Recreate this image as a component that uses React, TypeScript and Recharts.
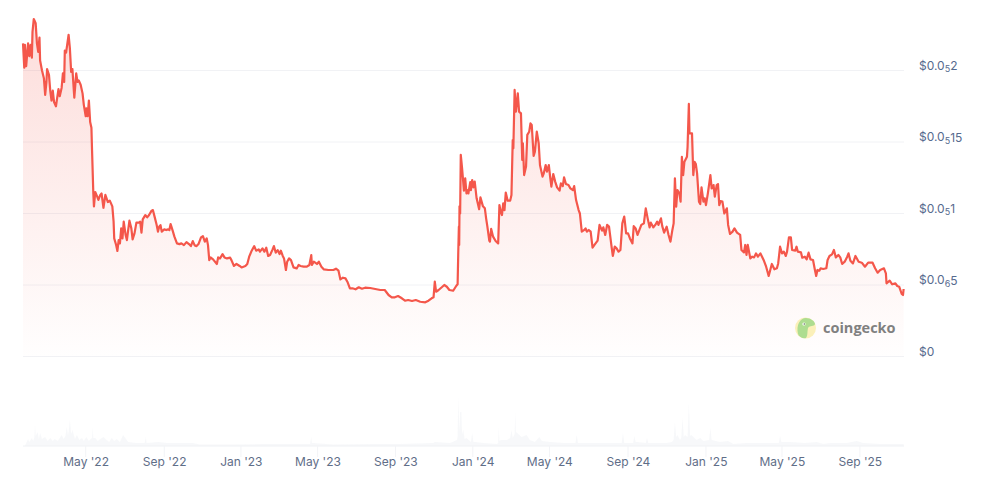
import React from "react";
import { ComposedChart, Area, XAxis, YAxis, CartesianGrid } from "recharts";

const FONT = "Inter, 'Noto Sans', sans-serif";
const LABEL = "#5f6e88";
const PRICE_LABEL = "#566a8e";

// Days since the start of the chart, price in millionths of a dollar.
const priceDays = [
  0,2,3,5,8,10,12,14,15,17,
  20,22,24,26,27,30,33,35,37,38,
  41,43,45,47,49,52,54,56,58,61,
  63,65,66,68,72,74,76,78,81,84,
  86,88,91,94,96,99,100,102,104,106,
  108,109,111,112,114,117,119,122,124,127,
  130,134,137,141,143,144,147,149,151,153,
  155,157,159,162,164,166,168,171,173,176,
  179,183,185,187,189,193,196,199,203,205,
  208,211,213,215,217,219,223,226,229,231,
  233,236,239,243,247,250,254,258,262,265,
  268,271,274,277,281,284,287,290,292,294,
  296,300,306,308,311,315,318,322,327,329,
  333,337,342,345,351,354,357,361,365,368,
  372,374,378,381,384,387,390,394,396,399,
  402,405,407,410,412,415,417,420,423,427,
  432,435,438,443,448,452,455,456,459,464,
  467,471,475,482,490,494,498,501,505,509,
  512,516,520,525,530,535,540,548,556,564,
  571,577,582,587,592,598,603,608,614,620,
  627,635,640,645,648,650,652,656,661,665,
  669,673,679,684,686,687,688,688.5,689,690,
  691,693,696,698,700,701,703,706,707,709,
  711,713,716,720,722,726,729,731,733,736,
  737,739,742,746,750,752,754,756,758,760,
  762,765,769,771,773,774,776,778,781,783,
  786,788,789,791,794,796,799,801,803,806,
  808,811,814,816,820,822,825,827,830,832,
  834,837,840,843,847,849,852,854,857,861,
  864,868,870,873,877,879,882,886,888,890,
  893,896,899,902,907,910,914,916,919,922,
  925,927,929,931,934,937,940,943,946,949,
  950,952,955,958,962,964,967,970,973,976,
  980,983,986,989,991,995,998,1001,1003,1007,
  1009,1012,1016,1019,1022,1025,1027,1029,1031,1033,
  1036,1038,1040,1042,1044,1048,1049,1051,1052,1056,
  1058,1060,1062,1064,1067,1069,1071,1074,1076,1078,
  1081,1085,1087,1090,1092,1095,1097,1099,1101,1104,
  1107,1111,1113,1116,1120,1123,1127,1132,1134,1138,
  1140,1142,1144,1148,1151,1154,1157,1160,1164,1169,
  1173,1177,1182,1186,1190,1192,1195,1198,1201,1204,
  1206,1209,1212,1214,1219,1221,1223,1228,1230,1234,
  1237,1240,1243,1247,1250,1252,1254,1257,1259,1263,
  1268,1270,1273,1277,1280,1283,1287,1290,1293,1297,
  1301,1303,1306,1310,1314,1319,1324,1329,1334,1341,
  1345,1349,1353,1359,1362,1363,1368,1372,1377,1380,
  1383,1387,1389,1390,
];

const priceValues = [
  2.19,2.02,2.18,2.03,2.19,2.10,2.18,2.09,2.27,2.36,
  2.33,2.19,2.13,2.23,2.07,2.00,1.945,1.83,1.92,2.01,
  1.97,1.86,1.79,1.86,1.78,1.75,1.81,1.87,1.82,1.88,
  1.98,1.92,2.14,2.125,2.25,2.155,1.99,2.01,1.81,1.98,
  1.92,1.93,1.90,1.84,1.76,1.68,1.735,1.68,1.79,1.64,
  1.60,1.44,1.14,1.05,1.15,1.12,1.095,1.13,1.14,1.04,
  1.13,1.08,1.09,1.05,.943,.826,.78,.738,.814,.791,
  .896,.826,.943,.849,.814,.884,.95,.896,.819,.861,
  .936,.936,.943,.866,.959,.989,.973,.989,1.02,1.024,
  .973,.919,.873,.908,.919,.873,.889,.884,.889,.884,
  .926,.884,.838,.791,.786,.791,.779,.80,.786,.772,
  .807,.777,.772,.786,.833,.842,.803,.826,.779,.674,
  .693,.679,.647,.693,.686,.716,.693,.686,.691,.674,
  .633,.647,.633,.623,.633,.647,.698,.740,.772,.740,
  .749,.733,.756,.733,.761,.703,.710,.749,.772,.726,
  .744,.716,.740,.703,.686,.605,.663,.686,.674,.623,
  .616,.640,.633,.628,.628,.640,.709,.640,.663,.647,
  .663,.628,.609,.605,.605,.614,.600,.539,.551,.546,
  .523,.476,.477,.47,.484,.474,.481,.479,.472,.465,
  .465,.43,.414,.414,.423,.407,.39,.395,.388,.395,
  .383,.379,.39,.407,.414,.523,.453,.465,.484,.50,
  .488,.465,.46,.495,.505,.72,.908,.78,1.05,1.0,
  1.41,1.32,1.16,1.245,1.14,1.164,1.14,1.22,1.164,1.234,
  1.183,1.223,1.106,1.03,1.113,1.05,1.036,.966,.908,.81,
  .803,.892,.838,.808,.791,1.059,1.013,.989,1.071,1.024,
  1.146,1.09,1.09,1.13,1.514,1.456,1.864,1.712,1.84,1.712,
  1.70,1.374,1.491,1.269,1.328,1.55,1.572,1.63,1.619,1.402,
  1.432,1.572,1.491,1.339,1.258,1.281,1.339,1.293,1.339,1.258,
  1.188,1.276,1.223,1.183,1.16,1.211,1.192,1.253,1.206,1.199,
  1.176,1.164,1.192,1.094,1.024,1.0,.873,.885,.896,.873,
  .885,.873,.761,.78,.81,.92,.88,.903,.85,.92,
  .908,.838,.768,.703,.768,.756,.733,.745,.931,.978,
  .943,.861,.861,.826,.791,.912,.896,.85,.885,.92,
  .931,1.036,.966,.903,.936,.903,.92,.943,.92,.966,
  .912,.866,.908,.85,.803,.885,.931,1.246,1.048,1.164,
  1.141,1.083,1.397,1.269,1.362,1.397,1.467,1.766,1.56,1.56,
  1.269,1.362,1.346,1.281,1.083,1.066,1.183,1.083,1.106,1.059,
  1.141,1.269,1.176,1.199,1.118,1.199,1.206,1.059,1.087,1.083,
  1.0,1.036,.92,.857,.873,.896,.866,.85,.745,.728,
  .78,.71,.78,.686,.698,.693,.721,.698,.721,.675,
  .628,.563,.647,.61,.617,.651,.768,.721,.733,.703,
  .733,.833,.833,.745,.74,.768,.733,.728,.691,.698,
  .679,.726,.679,.675,.605,.563,.605,.6,.617,.612,
  .617,.675,.703,.714,.745,.693,.71,.693,.647,.663,
  .698,.721,.67,.651,.703,.663,.656,.628,.656,.656,
  .617,.586,.605,.617,.582,.512,.53,.505,.512,.493,
  .488,.437,.43,.472,
];

const volumeDays = [
  3,8,10,14,16,18,19,20,23,25,
  27,30,35,39,43,47,50,55,61,64,
  67,69,71,72,74,76,78,82,85,89,
  93,96,100,104,107,109,110,111,114,118,
  122,127,132,136,140,144,148,153,158,166,
  179,192,194,195,214,227,268,279,332,385,
  437,453,455,456,458,490,558,595,648,650,
  674,685,686,687,689,690,692,693,695,697,
  700,707,709,711,714,727,748,750,751,752,
  754,764,769,771,773,776,777,778,780,787,
  795,800,808,815,819,832,853,872,874,876,
  879,900,921,945,947,949,951,963,965,967,
  969,983,985,987,990,1016,1024,1027,1029,1031,
  1033,1037,1039,1041,1043,1045,1049,1051,1053,1055,
  1063,1069,1074,1083,1085,1087,1100,1113,1121,1142,
  1163,1184,1193,1195,1197,1199,1211,1234,1253,1263,
  1274,1300,1316,1326,1353,1390,
];

const volumeValues = [
  0,7,4,8,5,9,21,10,14,7,
  13,7,9,5,8,5,7,5,11,7,
  10,19,11,14,26,12,16,7,11,6,
  8,5,9,5,7,8,18,8,8,5,
  7,9,6,4,8,5,7,4,11,4,
  3,3,9,3,4,3,3,1.5,1.5,2,
  2,2,9,3,3,1.5,2,2,3,4,
  3,6,9,48,14,34,34,12,16,7,
  8,4,13,4,4,3,2,3,18,5,
  6,6,8,16,8,12,34,14,13,9,
  11,6,4,9,5,4,3,3,11,3,
  3,3,3,3,13,3,3,3,10,4,
  4,3,8,3,3,3,4,6,24,9,
  11,6,8,28,9,11,9,43,10,11,
  6,8,5,6,18,6,4,5,2,3,
  3,3,3,10,4,4,4,3,4,2,
  3,3,5,3,2,2,
];

const timeTicks = [99, 223, 344, 465, 588, 710, 831, 955, 1078, 1198, 1321];
const timeLabels = ["May '22", "Sep '22", "Jan '23", "May '23", "Sep '23", "Jan '24", "May '24", "Sep '24", "Jan '25", "May '25", "Sep '25"];

const priceTicks = [0, 0.5, 1, 1.5, 2];
const priceHead = ["$0", "$0.0", "$0.0", "$0.0", "$0.0"];
const priceZeros = ["", "6", "5", "5", "5"];
const priceTail = ["", "5", "1", "15", "2"];

const priceData = priceDays.map((day, i) => ({ day, price: priceValues[i] }));
const volumeData = volumeDays.map((day, i) => ({ day, volume: volumeValues[i] }));
const DOMAIN: [number, number] = [0, 1390.6];

function PriceTick({ y, payload }: any) {
  const i = priceTicks.indexOf(payload.value);
  return (
    <text x={919} y={y - 5.2} dominantBaseline="central" fontSize={12} fontFamily={FONT} fill={PRICE_LABEL}>
      {priceHead[i]}
      {priceZeros[i] && <tspan fontSize={9} dy={3}>{priceZeros[i]}</tspan>}
      {priceTail[i] && <tspan dy={-3}>{priceTail[i]}</tspan>}
    </text>
  );
}

function TimeTick({ x, payload }: any) {
  return (
    <text x={x + 0.4} y={81} textAnchor="middle" dominantBaseline="central" fontSize={12} fontFamily={FONT} fill={LABEL}>
      {timeLabels[timeTicks.indexOf(payload.value)]}
    </text>
  );
}

function Watermark() {
  return (
    <svg width={115} height={36} style={{ position: "absolute", left: 790, top: 310 }}>
      <circle cx={15.5} cy={18} r={10.5} fill="#fbf0b9" />
      <path d="M8 24 C6 15 10 8 16 8 C20 8 25 11 25 14 C24 17 20 15 18 18 C17 23 18 25 16 28 C13 29 9 27 8 24 Z" fill="#aedd90" />
      <circle cx={14} cy={14} r={1.6} fill="#ffffff" />
      <circle cx={14.3} cy={14} r={0.8} fill="#5f6b5a" />
      <text x={33} y={23} fontFamily="'Open Sans', sans-serif" fontWeight={700} fontSize={14.5} fill="#808080">coingecko</text>
    </svg>
  );
}

export default function App() {
  return (
    <div style={{ position: "absolute", left: 0, top: 0, width: 983, height: 478, background: "#fff", overflow: "hidden" }}>
      <div style={{ position: "absolute", left: 0, top: 0 }}>
        <ComposedChart width={983} height={360} data={priceData} margin={{ top: 13.3, right: 0, bottom: 3.5, left: 23 }}>
          <defs>
            <linearGradient id="priceFill" x1="0" y1="0" x2="0" y2="1">
              <stop offset="0%" stopColor="#f4574b" stopOpacity={0.34} />
              <stop offset="100%" stopColor="#f4574b" stopOpacity={0.01} />
            </linearGradient>
          </defs>
          <CartesianGrid vertical={false} horizontalValues={priceTicks} stroke="#f1f2f5" strokeWidth={1} />
          <XAxis dataKey="day" type="number" domain={DOMAIN} hide />
          <YAxis orientation="right" width={79} domain={[0, 2.4]} ticks={priceTicks} axisLine={false} tickLine={false} tick={<PriceTick />} interval={0} />
          <Area type="linear" dataKey="price" baseValue={0} stroke="#f4574b" strokeWidth={2.2} strokeLinejoin="round" fill="url(#priceFill)" isAnimationActive={false} dot={false} activeDot={false} />
        </ComposedChart>
      </div>
      <div style={{ position: "absolute", left: 0, top: 380 }}>
        <ComposedChart width={983} height={98} data={volumeData} margin={{ top: 16, right: 79, bottom: 0, left: 23 }}>
          <XAxis dataKey="day" type="number" domain={DOMAIN} ticks={timeTicks} height={32} interval={0} axisLine={{ stroke: "#f0f2f5" }} tickLine={{ stroke: "#f3f4f7" }} tickSize={11} tick={<TimeTick />} />
          <YAxis hide domain={[0, 50]} />
          <Area type="linear" dataKey="volume" baseValue={0} stroke="none" fill="#f2f4f7" isAnimationActive={false} dot={false} activeDot={false} />
        </ComposedChart>
      </div>
      <Watermark />
    </div>
  );
}
